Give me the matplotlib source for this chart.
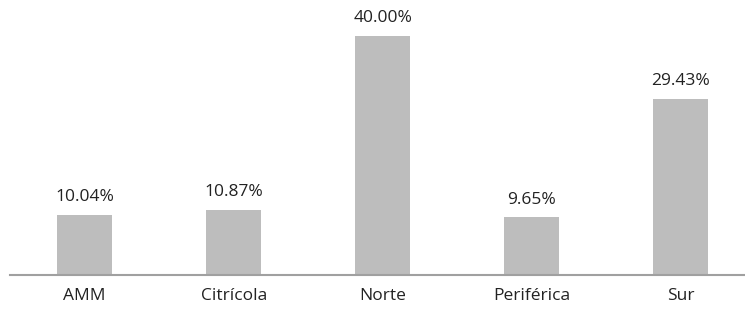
import matplotlib
matplotlib.use("Agg")
import matplotlib.pyplot as plt

categories = ["AMM", "Citrícola", "Norte", "Periférica", "Sur"]
values = [10.04, 10.87, 40.00, 9.65, 29.43]
labels = ["10.04%", "10.87%", "40.00%", "9.65%", "29.43%"]

plt.rcParams['font.family'] = ['Open Sans', 'DejaVu Sans']

fig = plt.figure(figsize=(7.45, 3.09), dpi=100)
ax = fig.add_axes([10/745, 34/309, 735/745, 255/309])
x = list(range(len(categories)))
bars = ax.bar(x, values, width=0.37, color="#bdbdbd", edgecolor="none", zorder=2)
ax.set_xlim(-0.5, 4.43)
ax.set_ylim(0, 40 * 255 / 239)
for xi, v, lab in zip(x, values, labels):
    ax.annotate(lab, (xi, v), xytext=(0, 7), textcoords="offset points",
                ha="center", va="bottom", fontsize=12.5, color="#222222")
ax.set_xticks(x)
ax.set_xticklabels(categories, fontsize=12.5, color="#222222")
ax.tick_params(axis="x", length=0, pad=9)
ax.set_yticks([])
for s in ["top", "right", "left"]:
    ax.spines[s].set_visible(False)
ax.spines["bottom"].set_color("#a0a0a0")
ax.spines["bottom"].set_linewidth(1.5)
fig.savefig("out.png", dpi=100)
